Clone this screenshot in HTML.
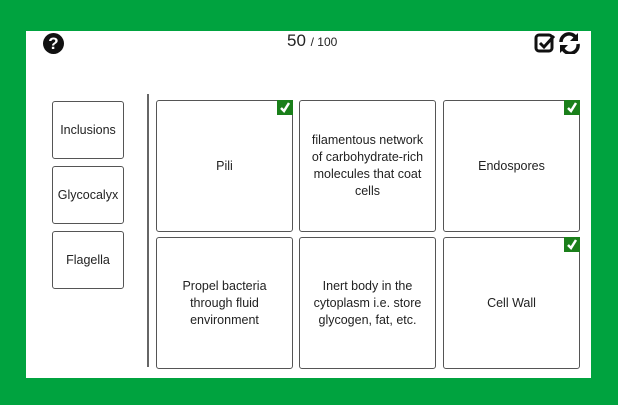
<!DOCTYPE html>
<html><head><style>
body{margin:0;width:618px;height:405px;background:#00a33f;position:relative;overflow:hidden;font-family:"Liberation Sans","DejaVu Sans",sans-serif;color:#222}
.panel{position:absolute;left:26px;top:31px;width:565px;height:347px;background:#fff}
.b{position:absolute;border:1.5px solid #555;border-radius:3px;background:#fff;display:flex;align-items:center;justify-content:center;text-align:center;font-size:12.5px;line-height:17px;box-sizing:border-box}
.ck{position:absolute;right:-1px;top:-1px;width:16px;height:15px;background:#1a7f1a}
</style></head><body>
<div class="panel"></div>
<div style="position:absolute;left:43px;top:33px;width:21px;height:21px;border-radius:50%;background:#111;color:#fff;font-weight:bold;font-size:17px;line-height:21px;text-align:center">?</div>
<div style="position:absolute;left:287px;top:31px;font-size:17px">50 <span style="font-size:12px">/ 100</span></div>
<svg style="position:absolute;left:534px;top:32px" width="48" height="22" viewBox="0 0 48 22">
<rect x="2" y="3" width="16" height="16" rx="3" fill="none" stroke="#111" stroke-width="3"/>
<path d="M6 11 L10 15 L20 4" fill="none" stroke="#111" stroke-width="3"/>
<path d="M27 10 A8 8 0 0 1 42 6" fill="none" stroke="#111" stroke-width="3.5"/>
<path d="M44 1 L44 9 L36 9 Z" fill="#111"/>
<path d="M44 12 A8 8 0 0 1 29 17" fill="none" stroke="#111" stroke-width="3.5"/>
<path d="M26 21 L26 13 L34 13 Z" fill="#111"/>
</svg>
<div class="b" style="left:52px;top:101px;width:72px;height:58px">Inclusions</div>
<div class="b" style="left:52px;top:166px;width:72px;height:58px">Glycocalyx</div>
<div class="b" style="left:52px;top:231px;width:72px;height:58px">Flagella</div>
<div style="position:absolute;left:147px;top:94px;width:2px;height:273px;background:#666"></div>
<div class="b" style="left:156px;top:100px;width:137px;height:132px">Pili<svg class="ck" viewBox="0 0 16 15"><path d="M4 8 L7 11 L12 3" fill="none" stroke="#fff" stroke-width="2.5"/></svg></div>
<div class="b" style="left:299px;top:100px;width:137px;height:132px">filamentous network<br>of carbohydrate-rich<br>molecules that coat<br>cells</div>
<div class="b" style="left:443px;top:100px;width:137px;height:132px">Endospores<svg class="ck" viewBox="0 0 16 15"><path d="M4 8 L7 11 L12 3" fill="none" stroke="#fff" stroke-width="2.5"/></svg></div>
<div class="b" style="left:156px;top:237px;width:137px;height:132px">Propel bacteria<br>through fluid<br>environment</div>
<div class="b" style="left:299px;top:237px;width:137px;height:132px">Inert body in the<br>cytoplasm i.e. store<br>glycogen, fat, etc.</div>
<div class="b" style="left:443px;top:237px;width:137px;height:132px">Cell Wall<svg class="ck" viewBox="0 0 16 15"><path d="M4 8 L7 11 L12 3" fill="none" stroke="#fff" stroke-width="2.5"/></svg></div>
</body></html>
